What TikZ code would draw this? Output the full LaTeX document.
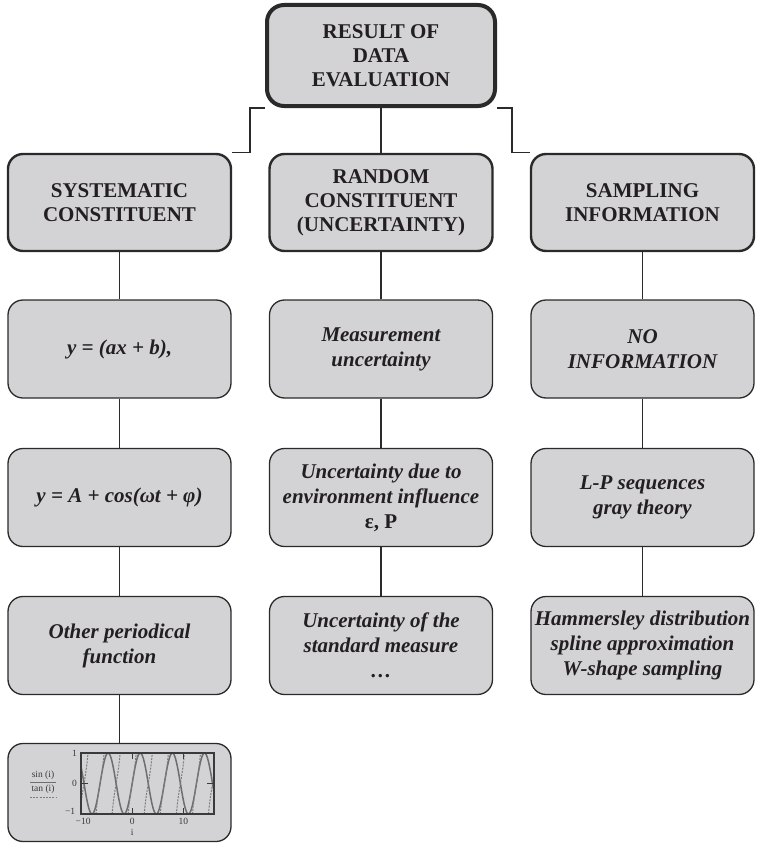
\documentclass[tikz,border=0pt]{standalone}
\usepackage{fontspec}
\setmainfont{Liberation Serif}
\usetikzlibrary{positioning}
\definecolor{ink}{HTML}{231F20}
\definecolor{edge}{HTML}{2A2A2A}
\definecolor{boxfill}{HTML}{D3D3D5}
\definecolor{curve}{HTML}{6E6E6E}
\definecolor{tickgray}{HTML}{3A3A3A}
\tikzset{
  headtext/.style={font=\bfseries\fontsize{21}{24}\selectfont,text=ink,align=center},
  itemtext/.style={font=\bfseries\itshape\fontsize{21}{25}\selectfont,text=ink,align=center},
  tinylabel/.style={font=\fontsize{9.5}{10.5}\selectfont,text=tickgray,inner sep=1pt},
  topbox/.style={headtext,rounded corners=17pt,draw=edge,fill=boxfill,line width=4pt,minimum width=228pt,minimum height=101pt,inner sep=2pt},
  headbox/.style={headtext,rounded corners=15pt,draw=edge,fill=boxfill,line width=2.4pt,minimum width=223pt,minimum height=97pt,inner sep=2pt},
  itembox/.style={itemtext,rounded corners=15pt,draw=edge,fill=boxfill,line width=1.3pt,minimum width=223pt,minimum height=98pt,inner sep=1pt},
  link/.style={draw=edge,line width=1.2pt},
  sinline/.style={draw=curve,line width=1.5pt},
  tanline/.style={draw=curve!90,line width=1pt,dash pattern=on 2pt off 1.2pt}
}
\begin{document}
\begin{tikzpicture}[x=1pt,y=-1pt]
\useasboundingbox (0,0) rectangle (756,843);
% top of the tree
\node[topbox] (result) at (381,55.5) {RESULT OF\\DATA\\EVALUATION};
% three branches
\node[headbox] (sys) at (119.5,202.5) {SYSTEMATIC\\CONSTITUENT};
\node[headbox] (rnd) at (381,202.5) {RANDOM\\CONSTITUENT\\(UNCERTAINTY)};
\node[headbox] (smp) at (642.5,202.5) {SAMPLING\\INFORMATION};
\draw[link] (result) -- (rnd);
\draw[link] (result.south west) -- ++(-15,0) |- (sys.north east);
\draw[link] (result.south east) -- ++(15,0) |- (smp.north west);
% systematic column
\node[itembox] (sys1) at (119.5,349) {y = (ax + b),};
\node[itembox] (sys2) at (119.5,497.5) {y = A + cos(ωt + φ)};
\node[itembox] (sys3) at (119.5,645.5) {Other periodical\\function};
\node[itembox] (plotbox) at (119.5,792.5) {};
\draw[link] (sys) -- (sys1); \draw[link] (sys1) -- (sys2); \draw[link] (sys2) -- (sys3); \draw[link] (sys3) -- (plotbox);
% random column
\node[itembox] (rnd1) at (381,349) {Measurement\\uncertainty};
\node[itembox] (rnd2) at (381,497.5) {Uncertainty due to\\environment influence\\{\upshape ε, P}};
\node[itembox] (rnd3) at (381,645.5) {Uncertainty of the\\standard measure\\…};
\draw[link] (rnd) -- (rnd1); \draw[link] (rnd1) -- (rnd2); \draw[link] (rnd2) -- (rnd3);
% sampling column
\node[itembox] (smp1) at (642.5,349) {NO\\INFORMATION};
\node[itembox] (smp2) at (642.5,497.5) {L-P sequences\\gray theory};
\node[itembox] (smp3) at (642.5,645.5) {Hammersley distribution\\spline approximation\\W-shape sampling};
\draw[link] (smp) -- (smp1); \draw[link] (smp1) -- (smp2); \draw[link] (smp2) -- (smp3);
% small plot of sin and tan
\begin{scope}[shift={(132.2,783.5)},x=5.115pt,y=30.5pt]
  \begin{scope}
    \clip (-10,-1) rectangle (16,1);
    \draw[sinline] plot[domain=-10:16,samples=160,smooth] (\x,{sin(\x r)});
    \foreach \k in {-3,...,5}{
      \pgfmathsetmacro\lo{\k*pi-pi/4}
      \pgfmathsetmacro\hi{\k*pi+pi/4}
      \draw[tanline] plot[domain=\lo:\hi,samples=20] (\x,{tan(\x r)});
    }
  \end{scope}
  \draw[tickgray,line width=1.4pt] (-10,-1) rectangle (16,1);
  \draw[tickgray,line width=1.2pt] (-10,0) -- ++(1.4,0) (16,0) -- ++(-1.4,0)
    (0,1) -- ++(0,-0.2) (0,-1) -- ++(0,0.2) (10,1) -- ++(0,-0.2) (10,-1) -- ++(0,0.2);
  \node[tinylabel,anchor=east] (ytop) at (-10.6,1) {1};
  \node[tinylabel,anchor=east] (ymid) at (-10.6,0) {0};
  \node[tinylabel,anchor=east] (ybot) at (-10.9,-0.9) {−1};
  \node[tinylabel,anchor=north] (xlo) at (-9.6,-1.1) {−10};
  \node[tinylabel,anchor=north] (xmid) at (0,-1.1) {0};
  \node[tinylabel,anchor=north] (xhi) at (10,-1.1) {10};
  \node[tinylabel,anchor=north] (xname) at (0,-1.47) {i};
\end{scope}
\node[tinylabel] (sinkey) at (43,775) {sin (i)};
\node[tinylabel] (tankey) at (43,789) {tan (i)};
\draw[sinline,line width=0.9pt] (30,782) -- (56,782);
\draw[tanline] (30,797) -- (56,797);
\end{tikzpicture}
\end{document}
